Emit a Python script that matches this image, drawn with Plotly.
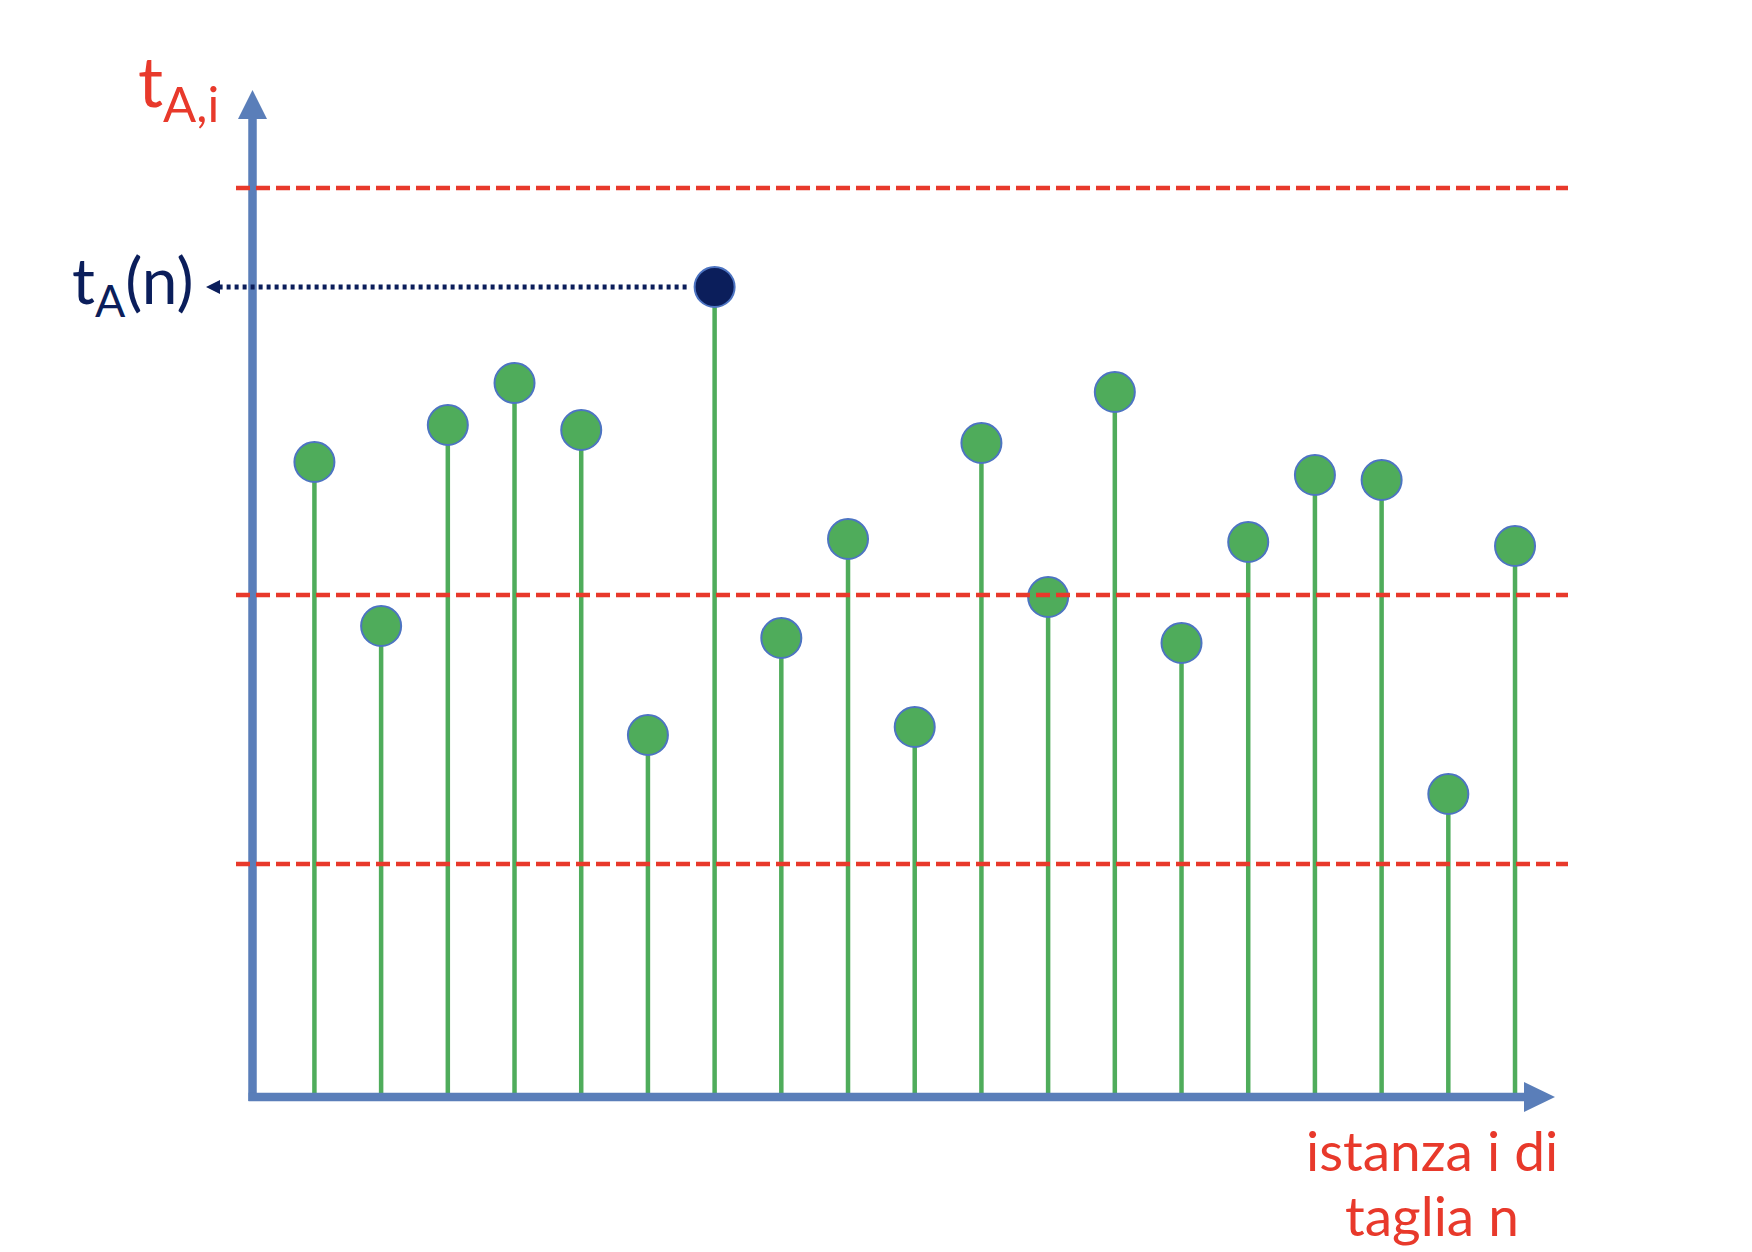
import plotly.graph_objects as go

# ---------------- data ----------------
instances = list(range(1, 20))
t_values = [6.35, 4.71, 6.72, 7.14, 6.67, 3.62, 8.10, 4.59, 5.58, 3.70,
            6.54, 5.00, 7.05, 4.54, 5.55, 6.22, 6.17, 3.03, 5.51]
thresholds = [9.09, 5.02, 2.33]
y_label = "t<sub>A,i</sub>"
peak_label = "t<sub>A</sub>(n)"
x_label_lines = ["istanza i di", "taglia n"]

# ---------------- style ----------------
W, H = 1752, 1252
X_RANGE = [-3.714, 22.553]
Y_RANGE = [-1.55, 10.97]
AXIS = "#5A7EB9"
GREEN = "#4FAC5B"
RED = "#E8392B"
NAVY = "#0B1E5B"
EDGE = "#4D74C2"
FONT = "Lato"


def px(x):
    return x / W


def py(y):
    return 1 - y / H


def data_x_from_px(p):
    return X_RANGE[0] + p / W * (X_RANGE[1] - X_RANGE[0])


peak_idx = max(range(len(t_values)), key=lambda k: t_values[k])
peak_x = instances[peak_idx]
peak_y = t_values[peak_idx]

# stems
sx, sy = [], []
for xi, yi in zip(instances, t_values):
    sx += [xi, xi, None]
    sy += [0, yi, None]

colors = [NAVY if k == peak_idx else GREEN for k in range(len(t_values))]

fig = go.Figure()
fig.add_trace(go.Scatter(x=sx, y=sy, mode="lines",
                         line=dict(color=GREEN, width=4.5),
                         hoverinfo="skip", showlegend=False))
fig.add_trace(go.Scatter(x=instances, y=t_values, mode="markers",
                         marker=dict(size=40, color=colors,
                                     line=dict(color=EDGE, width=2)),
                         showlegend=False))

shapes = []
# axes lines
shapes.append(dict(type="line", xref="paper", yref="paper",
                   x0=px(252.5), x1=px(252.5), y0=py(1101), y1=py(118),
                   line=dict(color=AXIS, width=8.5), layer="above"))
shapes.append(dict(type="line", xref="paper", yref="paper",
                   x0=px(248.5), x1=px(1526), y0=py(1097), y1=py(1097),
                   line=dict(color=AXIS, width=8.5), layer="above"))
# arrow heads
shapes.append(dict(type="path", xref="paper", yref="paper",
                   path=f"M {px(238)},{py(119)} L {px(267)},{py(119)} L {px(252.5)},{py(90)} Z",
                   fillcolor=AXIS, line=dict(width=0), layer="above"))
shapes.append(dict(type="path", xref="paper", yref="paper",
                   path=f"M {px(1524)},{py(1082)} L {px(1524)},{py(1112)} L {px(1555)},{py(1097)} Z",
                   fillcolor=AXIS, line=dict(width=0), layer="above"))
# threshold dashed lines
for t in thresholds:
    shapes.append(dict(type="line", xref="paper", yref="y",
                       x0=px(236), x1=px(1568), y0=t, y1=t,
                       line=dict(color=RED, width=4.5, dash="14px,6px"),
                       layer="above"))
# dotted arrow from peak to the y axis
tip_x = data_x_from_px(206)
base_x = data_x_from_px(220)
shapes.append(dict(type="line", xref="x", yref="y",
                   x0=peak_x - 0.42, x1=base_x, y0=peak_y, y1=peak_y,
                   line=dict(color=NAVY, width=5, dash="4px,4px"),
                   layer="above"))
dy = 7 / 100.0
shapes.append(dict(type="path", xref="x", yref="y",
                   path=f"M {base_x},{peak_y - dy} L {base_x},{peak_y + dy} L {tip_x},{peak_y} Z",
                   fillcolor=NAVY, line=dict(width=0), layer="above"))

annotations = [
    dict(text=y_label, xref="paper", yref="paper", x=px(136), y=py(36),
         xanchor="left", yanchor="top", showarrow=False,
         font=dict(family=FONT, size=70, color=RED)),
    dict(text=peak_label, xref="paper", yref="y", x=px(70), y=peak_y + 0.03,
         xanchor="left", yanchor="middle", showarrow=False,
         font=dict(family=FONT, size=64, color=NAVY)),
    dict(text=x_label_lines[0], xref="paper", yref="paper", x=px(1432), y=py(1150),
         xanchor="center", yanchor="middle", showarrow=False,
         font=dict(family=FONT, size=55, color=RED)),
    dict(text=x_label_lines[1], xref="paper", yref="paper", x=px(1432), y=py(1215),
         xanchor="center", yanchor="middle", showarrow=False,
         font=dict(family=FONT, size=55, color=RED)),
]

fig.update_layout(
    width=W, height=H, autosize=False,
    margin=dict(l=0, r=0, t=0, b=0, pad=0),
    paper_bgcolor="white", plot_bgcolor="white",
    xaxis=dict(range=X_RANGE, visible=False, fixedrange=True),
    yaxis=dict(range=Y_RANGE, visible=False, fixedrange=True),
    shapes=shapes, annotations=annotations, showlegend=False,
)

fig.write_html("out.html")
